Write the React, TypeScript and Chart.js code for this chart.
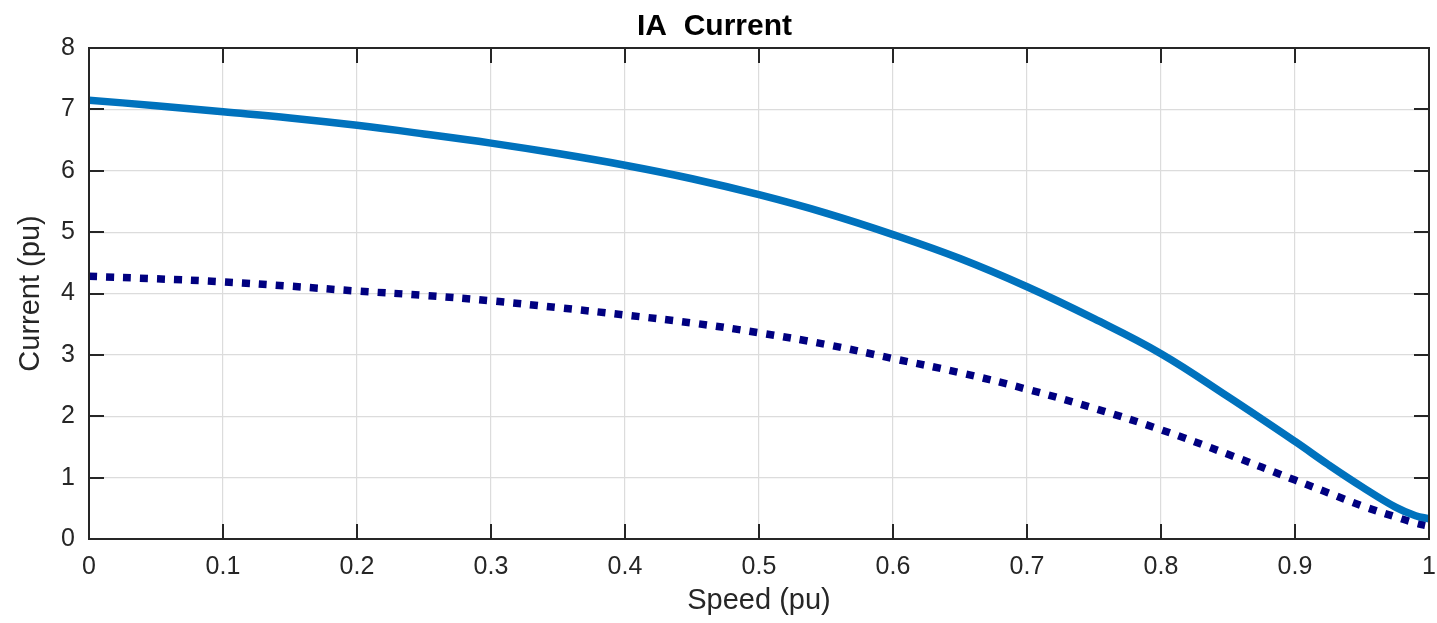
import React, { useEffect, useRef } from "react";
import { Chart, registerables } from "chart.js";

Chart.register(...registerables);

// ---- data ----
const speed = [0, 0.05, 0.1, 0.15, 0.2, 0.25, 0.3, 0.35, 0.4, 0.45, 0.5, 0.55, 0.6, 0.65, 0.7, 0.75, 0.8, 0.85, 0.9, 0.925, 0.95, 0.975, 0.99, 1.0];
const currentSolid = [7.15, 7.06, 6.96, 6.86, 6.74, 6.6, 6.45, 6.28, 6.09, 5.87, 5.61, 5.31, 4.96, 4.57, 4.11, 3.59, 3.02, 2.32, 1.59, 1.21, 0.85, 0.52, 0.38, 0.33];
const currentDotted = [4.28, 4.24, 4.19, 4.12, 4.04, 3.97, 3.88, 3.77, 3.65, 3.52, 3.36, 3.17, 2.94, 2.71, 2.44, 2.13, 1.78, 1.38, 0.96, 0.75, 0.54, 0.36, 0.26, 0.21];
const xTicks = [0, 0.1, 0.2, 0.3, 0.4, 0.5, 0.6, 0.7, 0.8, 0.9, 1];
const yTicks = [0, 1, 2, 3, 4, 5, 6, 7, 8];
const titleText = "IA  Current";
const xTitle = "Speed (pu)";
const yTitle = "Current (pu)";

const FONT = "'Liberation Sans', Arial, Helvetica, sans-serif";
const AXIS_COLOR = "#262626";

const framePlugin = {
  id: "matlabFrame",
  afterDatasetsDraw(chart: any) {
    const { ctx, chartArea } = chart;
    const { left, right, top, bottom } = chartArea;
    const xs = chart.scales.x;
    const ys = chart.scales.y;
    const tl = 15;
    ctx.save();
    ctx.strokeStyle = AXIS_COLOR;
    ctx.lineWidth = 2;
    ctx.beginPath();
    for (const v of xTicks) {
      const px = Math.round(xs.getPixelForValue(v));
      ctx.moveTo(px, bottom);
      ctx.lineTo(px, bottom - tl);
      ctx.moveTo(px, top);
      ctx.lineTo(px, top + tl);
    }
    for (const v of yTicks) {
      const py = Math.round(ys.getPixelForValue(v));
      ctx.moveTo(left, py);
      ctx.lineTo(left + tl, py);
      ctx.moveTo(right, py);
      ctx.lineTo(right - tl, py);
    }
    ctx.stroke();
    ctx.strokeRect(left, top, right - left, bottom - top);
    ctx.restore();
  },
};

function fmt(v: number) {
  return String(Number(v.toFixed(1)));
}

export default function App() {
  const ref = useRef<HTMLCanvasElement | null>(null);

  useEffect(() => {
    if (!ref.current) return;
    const chart = new Chart(ref.current, {
      type: "line",
      data: {
        datasets: [
          {
            label: "solid",
            data: speed.map((s, i) => ({ x: s, y: currentSolid[i] })),
            borderColor: "#0072BD",
            borderWidth: 7.5,
            pointRadius: 0,
            tension: 0.4,
            borderJoinStyle: "round",
            clip: 0,
          },
          {
            label: "dotted",
            data: speed.map((s, i) => ({ x: s, y: currentDotted[i] })),
            borderColor: "#000080",
            borderWidth: 7.5,
            borderDash: [8, 9],
            borderCapStyle: "butt",
            pointRadius: 0,
            tension: 0.4,
            clip: 0,
          },
        ],
      },
      options: {
        animation: false,
        responsive: true,
        maintainAspectRatio: false,
        layout: { padding: { top: 0, right: 8, left: 0, bottom: 0 } },
        plugins: {
          legend: { display: false },
          tooltip: { enabled: false },
          title: {
            display: true,
            text: titleText,
            color: "#000000",
            font: { family: FONT, size: 30, weight: "bold" },
            padding: { top: 9, bottom: 3 },
          },
        },
        scales: {
          x: {
            type: "linear",
            min: 0,
            max: 1,
            afterFit: (s: any) => {
              s.height = 84;
              s.paddingLeft = 0;
              s.paddingRight = 0;
            },
            afterBuildTicks: (s: any) => {
              s.ticks = xTicks.map((v) => ({ value: v }));
            },
            ticks: {
              color: AXIS_COLOR,
              font: { family: FONT, size: 25 },
              padding: 13,
              maxRotation: 0,
              autoSkip: false,
              callback: (v: any) => fmt(Number(v)),
            },
            grid: { color: "#dcdcdc", lineWidth: 1.2, drawTicks: false },
            border: { display: false },
            title: {
              display: true,
              text: xTitle,
              color: AXIS_COLOR,
              font: { family: FONT, size: 29 },
              padding: { top: 0, bottom: 4.6 },
            },
          },
          y: {
            type: "linear",
            min: 0,
            max: 8,
            afterFit: (s: any) => {
              s.width = 89;
              s.paddingTop = 0;
              s.paddingBottom = 0;
            },
            afterBuildTicks: (s: any) => {
              s.ticks = yTicks.map((v) => ({ value: v }));
            },
            ticks: {
              color: AXIS_COLOR,
              font: { family: FONT, size: 25 },
              padding: 14,
              autoSkip: false,
              callback: (v: any) => fmt(Number(v)),
            },
            grid: { color: "#dcdcdc", lineWidth: 1.2, drawTicks: false },
            border: { display: false },
            title: {
              display: true,
              text: yTitle,
              color: AXIS_COLOR,
              font: { family: FONT, size: 29 },
              padding: { top: 13.6, bottom: 0 },
            },
          },
        },
      },
      plugins: [framePlugin],
    } as any);
    return () => chart.destroy();
  }, []);

  return (
    <div
      style={{
        position: "fixed",
        left: 0,
        top: 0,
        width: "1437px",
        height: "623px",
        background: "#ffffff",
      }}
    >
      <canvas ref={ref} />
    </div>
  );
}
